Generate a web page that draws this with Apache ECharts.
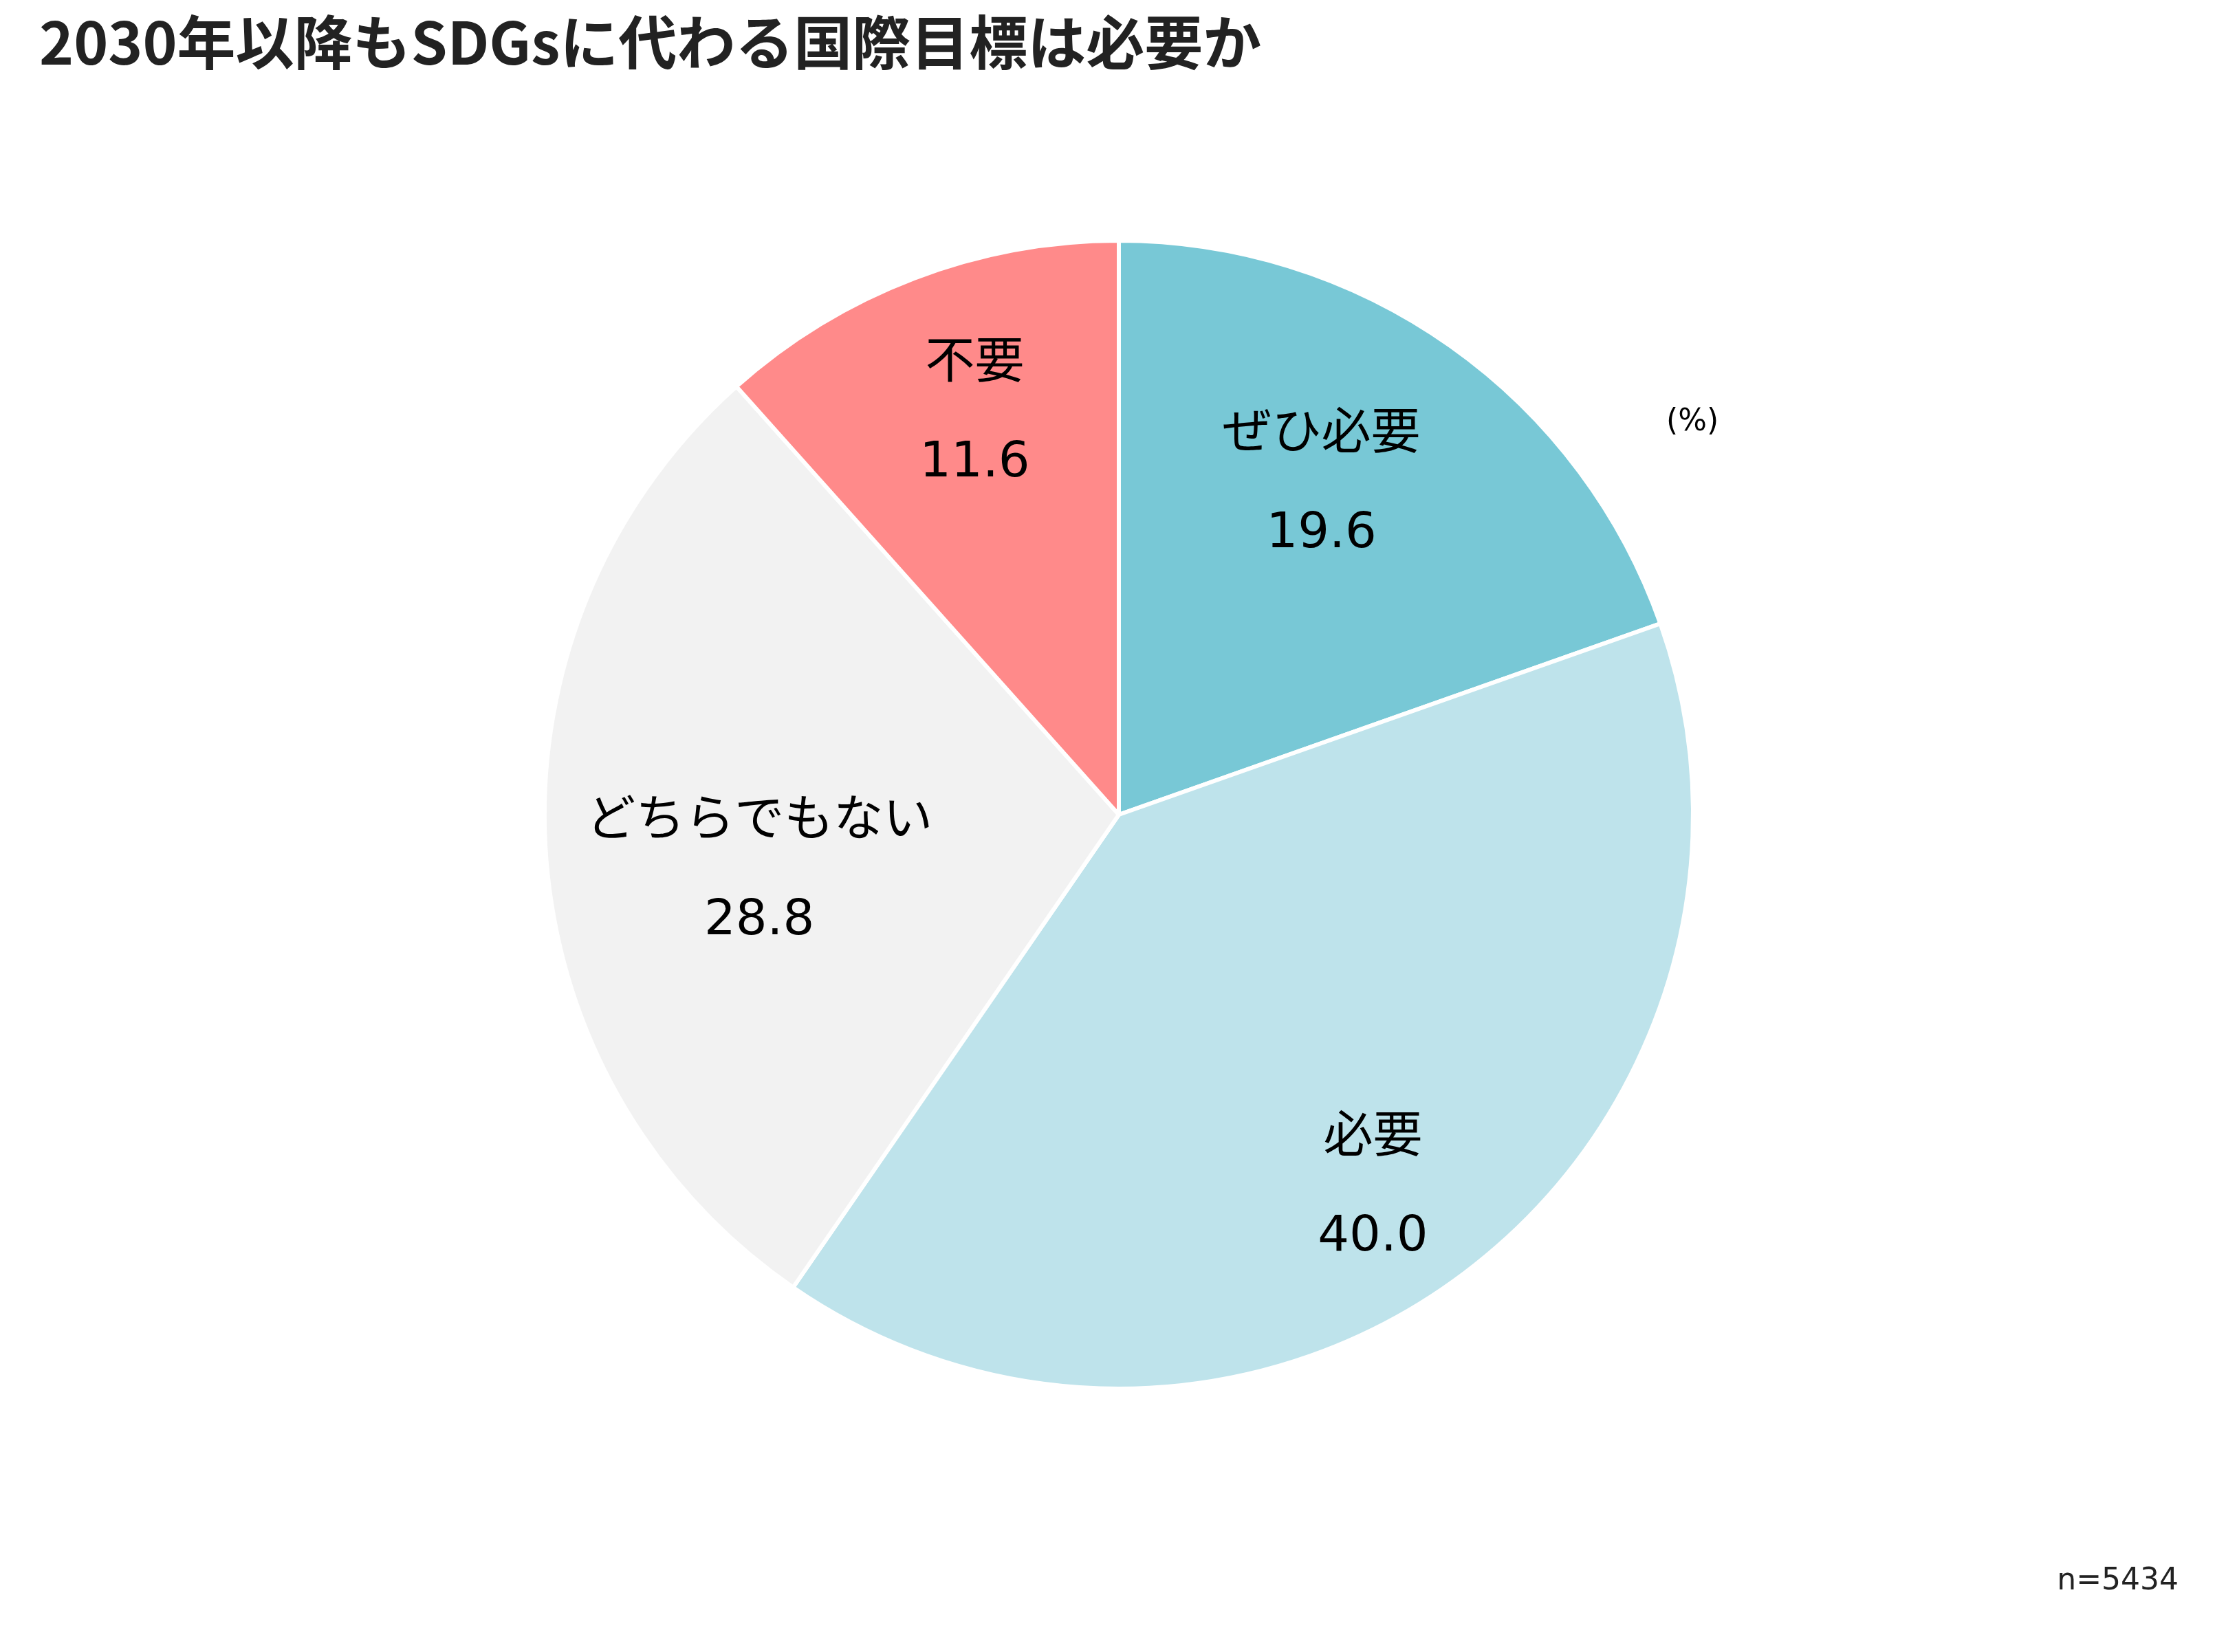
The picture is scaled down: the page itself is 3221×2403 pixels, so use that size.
<!DOCTYPE html>
<html>
	<head>
		<meta charset="UTF-8">
		<title>2030年以降もSDGsに代わる国際目標は必要か</title>
		<script src="https://cdn.jsdelivr.net/npm/echarts@6/dist/echarts.min.js"></script>
		<style>
			html, body { margin: 0; padding: 0; background: #fff; }
			#chart { width: 3221px; height: 2403px; }
		</style>
	</head>
	<body>
		<div id="chart"></div>
		<script type="text/javascript">
			// 回答の区分と割合(%)
			var categories = ['ぜひ必要', '必要', 'どちらでもない', '不要'];
			var values = [19.6, 40.0, 28.8, 11.6];
			var colors = ['#78C8D6', '#BEE3EB', '#F2F2F2', '#FF8A8A'];
			// ラベルの微調整(px)
			var labelOffsets = [[-45, 0], [12, 76], [64, 46], [0, -33]];

			var sliceData = [];
			var labelData = [];
			for (var i = 0; i < categories.length; i++) {
				sliceData.push({ name: categories[i], value: values[i], itemStyle: { color: colors[i] } });
				labelData.push({ name: categories[i], value: values[i], label: { offset: labelOffsets[i] } });
			}

			var labelFont = 'DejaVu Sans, "Noto Sans CJK JP", sans-serif';
			var myChart = echarts.init(document.getElementById('chart'));

			var option = {
				backgroundColor: '#fff',
				animation: false,
				title: [
					{
						text: '2030年以降もSDGsに代わる国際目標は必要か',
						left: 52,
						top: 14,
						textStyle: { fontSize: 85, fontWeight: 'bold', color: '#222', fontFamily: '"Noto Sans CJK JP", sans-serif' }
					},
					{
						text: '(%)',
						left: 2418,
						top: 588,
						textStyle: { fontSize: 44, fontWeight: 'normal', color: '#000', fontFamily: labelFont }
					},
					{
						text: 'n=5434',
						right: 48,
						top: 2274,
						textStyle: { fontSize: 44, fontWeight: 'normal', color: '#222', fontFamily: labelFont }
					}
				],
				series: [
					{
						// 本体の円
						type: 'pie',
						center: [1627, 1185],
						radius: [0, 835],
						startAngle: 90,
						clockwise: true,
						silent: true,
						label: { show: false },
						labelLine: { show: false },
						itemStyle: { borderColor: '#fff', borderWidth: 6 },
						data: sliceData
					},
					{
						// ラベル用(透明)
						type: 'pie',
						center: [1627, 1185],
						radius: [335, 835],
						startAngle: 90,
						clockwise: true,
						silent: true,
						itemStyle: { color: 'rgba(0,0,0,0)', borderWidth: 0 },
						label: {
							show: true,
							position: 'inside',
							formatter: function (p) {
								return p.name + '\n\n' + p.value.toFixed(1);
							},
							fontSize: 72,
							lineHeight: 72,
							color: '#000',
							fontFamily: labelFont,
							align: 'center'
						},
						labelLine: { show: false },
						data: labelData
					}
				]
			};
			myChart.setOption(option);
		</script>
	</body>
</html>
